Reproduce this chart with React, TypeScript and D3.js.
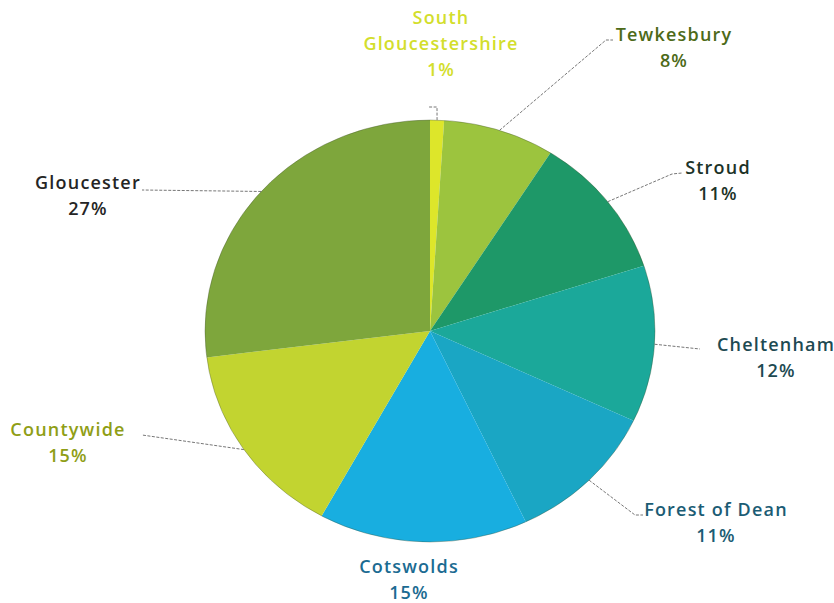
import React, { useEffect, useRef } from "react";
import * as d3 from "d3";

const categories = [
  "South Gloucestershire",
  "Tewkesbury",
  "Stroud",
  "Cheltenham",
  "Forest of Dean",
  "Cotswolds",
  "Countywide",
  "Gloucester",
];
const values = [1, 8, 11, 12, 11, 15, 15, 27];
const sliceColors = ["#dde62a", "#9cc43e", "#1e9868", "#1ba89a", "#1aa6c4", "#18aee0", "#c2d430", "#7ea63c"];
const labelColors = ["#d3de2c", "#4d6a18", "#1c3328", "#1d4a52", "#1b5c74", "#1b6b92", "#8f9e16", "#252525"];
const labelLines = [
  ["South", "Gloucestershire", "1%"],
  ["Tewkesbury", "8%"],
  ["Stroud", "11%"],
  ["Cheltenham", "12%"],
  ["Forest of Dean", "11%"],
  ["Cotswolds", "15%"],
  ["Countywide", "15%"],
  ["Gloucester", "27%"],
];

// layout (label centre x, first baseline y, leader elbow/end points)
const labelLayout = [
  { x: 441, y: 24, leader: [[437, 107], [428, 107]] },
  { x: 674, y: 41, leader: [[606, 40], [613, 40]] },
  { x: 718, y: 174, leader: [[672, 174], [682, 173]] },
  { x: 776, y: 351, leader: [[700, 349]] },
  { x: 716, y: 516, leader: [[635, 515], [643, 515]] },
  { x: 409, y: 573, leader: [] },
  { x: 68, y: 436, leader: [[142, 435]] },
  { x: 88, y: 189, leader: [[142, 190]] },
];

const W = 834;
const H = 603;
const CX = 430;
const CY = 331;
const RX = 225;
const RY = 211;

export default function App() {
  const ref = useRef<SVGSVGElement>(null);
  useEffect(() => {
    const svg = d3.select(ref.current);
    svg.selectAll("*").remove();
    const data = categories.map((c, i) => ({ c, v: values[i], i }));
    const pie = d3.pie<any>().value((d) => d.v).sort(null).startAngle(0).endAngle(2 * Math.PI);
    const arcs = pie(data);
    const arc = d3.arc<any>().innerRadius(0).outerRadius(RX);

    const g = svg.append("g").attr("transform", `translate(${CX},${CY}) scale(1,${RY / RX})`);
    g.selectAll("path")
      .data(arcs)
      .join("path")
      .attr("d", arc as any)
      .attr("fill", (d: any) => sliceColors[d.data.i]);
    g.append("ellipse")
      .attr("rx", RX)
      .attr("ry", RX)
      .attr("fill", "none")
      .attr("stroke", "#3a4a2a")
      .attr("stroke-opacity", 0.35)
      .attr("stroke-width", 1);

    const line = d3.line();
    arcs.forEach((a: any) => {
      const i = a.data.i;
      const lay = labelLayout[i];
      const mid = (a.startAngle + a.endAngle) / 2;
      const sx = CX + RX * Math.sin(mid);
      const sy = CY - RY * Math.cos(mid);
      if (lay.leader.length) {
        const pts: [number, number][] = [[sx, sy], ...(lay.leader as [number, number][])];
        svg.append("path")
          .attr("d", line(pts))
          .attr("fill", "none")
          .attr("stroke", "#777")
          .attr("stroke-width", 1)
          .attr("stroke-dasharray", "3,1.5");
      }
      const t = svg.append("text")
        .attr("text-anchor", "middle")
        .attr("font-family", "'Open Sans', sans-serif")
        .attr("font-weight", 600)
        .attr("font-size", 18)
        .attr("letter-spacing", 1.2)
        .attr("fill", labelColors[i]);
      labelLines[i].forEach((s, k) => {
        t.append("tspan").attr("x", lay.x).attr("y", lay.y + k * 26).text(s);
      });
    });
  }, []);
  return (
    <svg
      ref={ref}
      width={W}
      height={H}
      style={{ position: "absolute", left: 0, top: 0, background: "#fff" }}
    />
  );
}
